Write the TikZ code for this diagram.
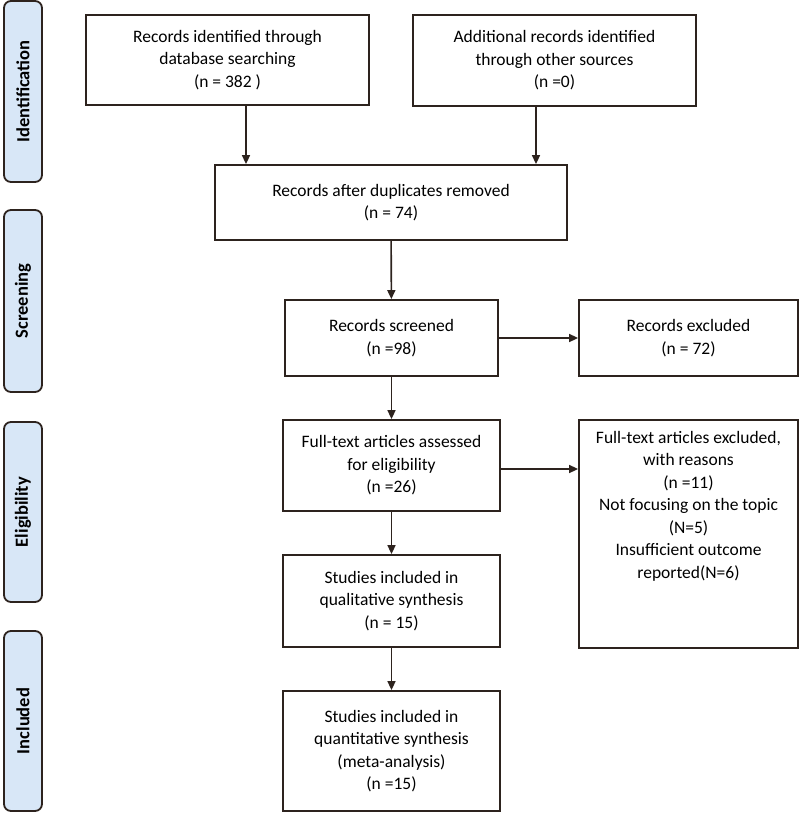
\documentclass[tikz,border=0pt]{standalone}
\usepackage{fontspec}
\setmainfont{Carlito}
\usetikzlibrary{arrows.meta,positioning}

\definecolor{stagefill}{RGB}{216,231,247}
\definecolor{edgecol}{RGB}{45,35,30}

\begin{document}
\begin{tikzpicture}[x=1pt, y=-1pt,
    >={Triangle[length=9pt,width=8pt]},
    box/.style={draw=edgecol, line width=1.8pt, align=center, inner sep=0pt,
        font=\fontsize{17.5}{22.5}\selectfont},
    stage/.style={draw=edgecol, line width=1.8pt, fill=stagefill, rounded corners=7pt,
        minimum width=38pt, inner sep=0pt,
        font=\fontsize{18.5}{22}\selectfont\bfseries},
    link/.style={->, draw=edgecol, line width=1.6pt}]

    \useasboundingbox (0,0) rectangle (800,813);

    % stages on the left
    \node [stage, minimum height=181pt] (ident) at (23, 91.5)
        {\rotatebox{90}{Identification}};
    \node [stage, minimum height=182pt] (screen) at (23, 301)
        {\rotatebox{90}{Screening}};
    \node [stage, minimum height=180pt] (elig) at (23, 512)
        {\rotatebox{90}{Eligibility}};
    \node [stage, minimum height=180pt] (incl) at (23, 721)
        {\rotatebox{90}{Included}};

    % flow boxes
    \node [box, minimum width=283pt, minimum height=90pt] (database) at (227.5, 60)
        {Records identified through\\database searching\\(n = 382 )};
    \node [box, minimum width=283pt, minimum height=91pt] (other) at (554.5, 60.5)
        {Additional records identified\\through other sources\\(n =0)};
    \node [box, minimum width=352pt, minimum height=75pt] (dupl) at (391, 202.5)
        {Records after duplicates removed\\(n = 74)};
    \node [box, minimum width=213pt, minimum height=76pt] (screened) at (391.5, 338)
        {Records screened\\(n =98)};
    \node [box, minimum width=219pt, minimum height=76pt] (excluded) at (688.5, 338)
        {Records excluded\\(n = 72)};
    \node [box, minimum width=217pt, minimum height=91pt] (fulltext) at (391.5, 465.5)
        {Full-text articles assessed\\for eligibility\\(n =26)};
    \node [box, minimum width=219pt, minimum height=228pt] (fullexcl) at (688.5, 534) {};
    \node [box, draw=none, anchor=north] (fullexcltext) at ([yshift=-11pt]fullexcl.north)
        {Full-text articles excluded,\\with reasons\\(n =11)\\Not focusing on the topic\\(N=5)\\Insufficient outcome\\reported(N=6)};
    \node [box, minimum width=217pt, minimum height=92pt] (qual) at (391.5, 601)
        {Studies included in\\qualitative synthesis\\(n = 15)};
    \node [box, minimum width=217pt, minimum height=120pt] (quant) at (391.5, 751)
        {Studies included in\\quantitative synthesis\\(meta-analysis)\\(n =15)};

    % connectors
    \draw [link] ([xshift=18.5pt]database.south) -- ([xshift=18.5pt]database.south |- dupl.north);
    \draw [link] ([xshift=-18.5pt]other.south) -- ([xshift=-18.5pt]other.south |- dupl.north);
    \draw [link] (dupl) -- (screened);
    \draw [link] (screened) -- (excluded);
    \draw [link] (screened) -- (fulltext);
    \draw [link] ([yshift=-3.5pt]fulltext.east) -- ([yshift=-3.5pt]fulltext.east -| fullexcl.west);
    \draw [link] (fulltext) -- (qual);
    \draw [link] (qual) -- (quant);
\end{tikzpicture}
\end{document}
